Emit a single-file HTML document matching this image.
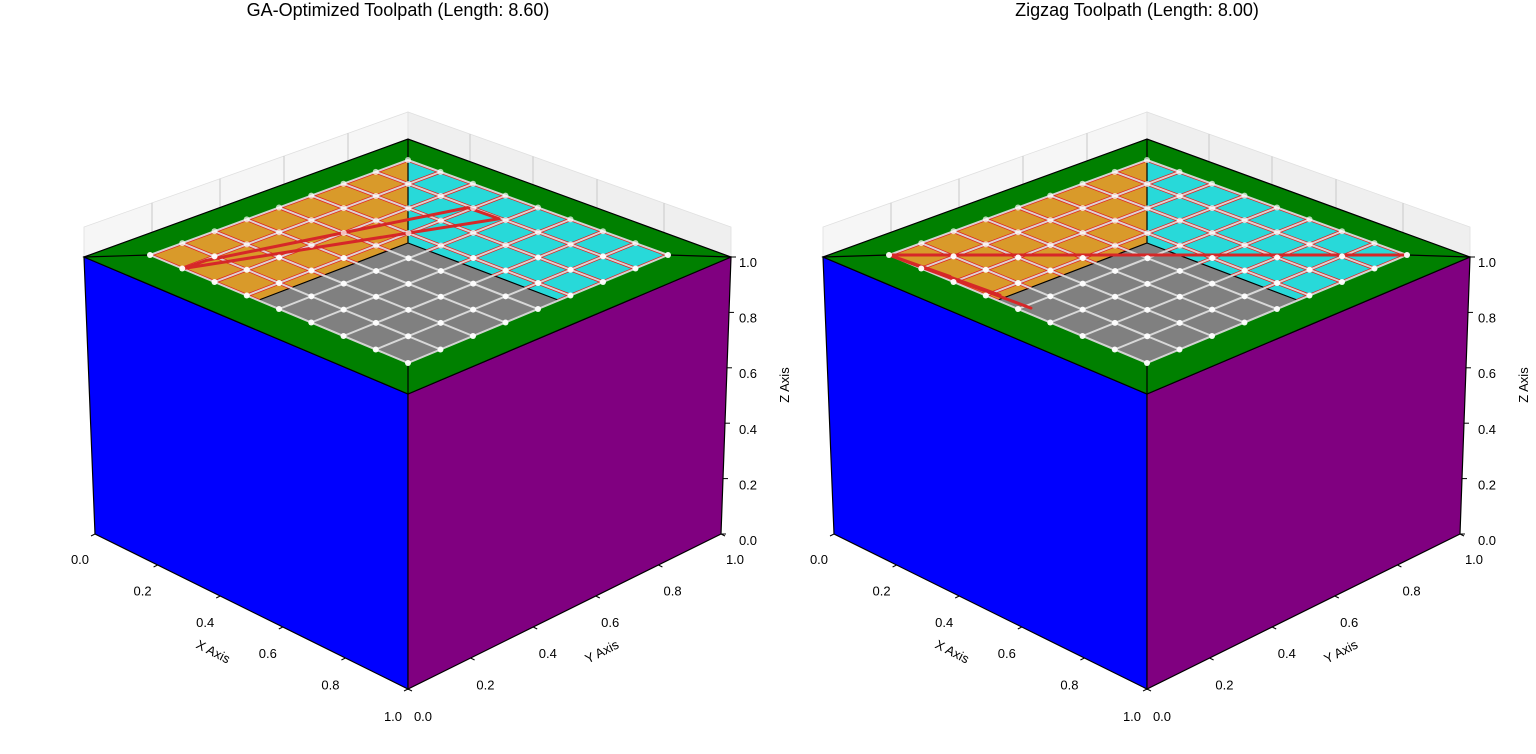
<!DOCTYPE html>
<html><head><meta charset="utf-8">
<style>
body{margin:0;background:#fff;width:1536px;height:754px;overflow:hidden}
svg{display:block;font-family:"Liberation Sans","DejaVu Sans",sans-serif}
</style></head>
<body>
<svg id="chart" width="1536" height="754" viewBox="0 0 1536 754" xmlns="http://www.w3.org/2000/svg"></svg>
<script>
// ---- data ----
const panelTitles = ["GA-Optimized Toolpath (Length: 8.60)", "Zigzag Toolpath (Length: 8.00)"];
const gaPathU = [1.0, 0.13, 0.133, 0.913, 1.0];
const gaPathV = [0.126, 0.48, 0.362, 0.129, 0.126];
const zigPathU = [0.0, 1.0, 0.97, 1.0, 0.97, 1.0, 0.98];
const zigPathV = [1.0, 0.0, 0.40, 0.0, 0.52, 0.0, 0.22];
const xTicks = ["0.0","0.2","0.4","0.6","0.8","1.0"];
const yTicks = ["0.0","0.2","0.4","0.6","0.8","1.0"];
const zTicks = ["0.0","0.2","0.4","0.6","0.8","1.0"];
const gridN = 8;

const NS = "http://www.w3.org/2000/svg";
const svg = document.getElementById("chart");
function mk(tag, attrs, parent){
  const e = document.createElementNS(NS, tag);
  for (const k in attrs) e.setAttribute(k, attrs[k]);
  (parent||svg).appendChild(e);
  return e;
}
function pts(a){return a.map(p=>p[0]+","+p[1]).join(" ");}

function drawPanel(idx, ox, pathU, pathV){
  const g = mk("g", {transform:"translate("+ox+",0)"});
  
  
  // back panes
  const paneL = mk("polygon",{points:pts([[84,257],[84,227],[408,112],[408,139]]),fill:"#f6f6f6",stroke:"#e0e0e0","stroke-width":0.8},g);
  
  
  const paneR = mk("polygon",{points:pts([[408,112],[731,227],[731,257],[408,139]]),fill:"#efefef",stroke:"#e0e0e0","stroke-width":0.8},g);
  
  
  [152,220,284,348].forEach(x=>{
    const t=(x-84)/(408-84);
    const l=mk("line",{x1:x,y1:227-t*115,x2:x,y2:257-t*118,stroke:"#c8c8c8","stroke-width":1},g);
    
    
  });
  [470,533,597,664].forEach(x=>{
    const t=(x-408)/(731-408);
    const l=mk("line",{x1:x,y1:112+t*115,x2:x,y2:139+t*118,stroke:"#c8c8c8","stroke-width":1},g);
    
    
  });
  // cube faces
  const blue = mk("polygon",{points:pts([[84,257],[408,394],[408,689],[95,534]]),fill:"#0000ff",stroke:"#000","stroke-width":1.2},g);
  
  
  const purple = mk("polygon",{points:pts([[408,394],[731,257],[721,534],[408,689]]),fill:"#800080",stroke:"#000","stroke-width":1.2},g);
  
  
  // rim
  const B=[408,160],L=[150,255],R=[668,255],F=[408,363];
  const rim = mk("path",{d:"M84,257 L408,139 L731,257 L408,394 Z M150,255 L408,363 L668,255 L408,160 Z",fill:"#008000","fill-rule":"evenodd",stroke:"#000","stroke-width":1.2},g);
  
  
  [[[84,257],L],[[408,139],B],[[731,257],R],[[408,394],F]].forEach(s=>{
    const l=mk("line",{x1:s[0][0],y1:s[0][1],x2:s[1][0],y2:s[1][1],stroke:"#000","stroke-width":1.2},g);
    
    
  });
  // pocket walls & floor
  const FB=[408,243],FL=[259,300],FR=[558,300];
  const orange = mk("polygon",{points:pts([L,B,FB,FL]),fill:"#d99a2a"},g);
  
  
  const cyan = mk("polygon",{points:pts([B,R,FR,FB]),fill:"#28d9d9"},g);
  
  
  const floor = mk("polygon",{points:pts([FB,FR,F,FL]),fill:"#808080"},g);
  
  
  [[B,FB],[FB,FL],[FB,FR]].forEach(s=>{
    const l=mk("line",{x1:s[0][0],y1:s[0][1],x2:s[1][0],y2:s[1][1],stroke:"#000","stroke-width":1.2},g);
    
    
  });
  const lat=(u,v)=>[B[0]*(1-u)*(1-v)+L[0]*u*(1-v)+R[0]*(1-u)*v+F[0]*u*v,
                    B[1]*(1-u)*(1-v)+L[1]*u*(1-v)+R[1]*(1-u)*v+F[1]*u*v];
  // red guide lines on walls (clipped)
  const cid="wallclip"+idx;
  const cp=mk("clipPath",{id:cid},g);
  mk("polygon",{points:pts([L,B,FB,FL])},cp);
  mk("polygon",{points:pts([B,R,FR,FB])},cp);
  const rg=mk("g",{"clip-path":"url(#"+cid+")"},g);
  for(let i=0;i<=gridN;i++){
    const t=i/gridN;
    const a=lat(t,0),b=lat(t,1),c=lat(0,t),d=lat(1,t);
    const l1=mk("line",{x1:a[0],y1:a[1],x2:b[0],y2:b[1],stroke:"#e02020","stroke-width":3.4},rg);
    
    
    const l2=mk("line",{x1:c[0],y1:c[1],x2:d[0],y2:d[1],stroke:"#e02020","stroke-width":3.4},rg);
    
    
  }
  // white grid
  for(let i=0;i<=gridN;i++){
    const t=i/gridN;
    const a=lat(t,0),b=lat(t,1),c=lat(0,t),d=lat(1,t);
    const l1=mk("line",{x1:a[0],y1:a[1],x2:b[0],y2:b[1],stroke:"#dcdcdc","stroke-width":2,"stroke-opacity":0.95},g);
    
    
    const l2=mk("line",{x1:c[0],y1:c[1],x2:d[0],y2:d[1],stroke:"#dcdcdc","stroke-width":2,"stroke-opacity":0.95},g);
    
    
  }
  // toolpath
  const tp = pathU.map((u,k)=>lat(u,pathV[k]));
  const path = mk("polyline",{points:pts(tp),fill:"none",stroke:"#d62728","stroke-width":3,"stroke-linejoin":"round"},g);
  
  
  // nodes
  for(let i=0;i<=gridN;i++)for(let j=0;j<=gridN;j++){
    const p=lat(i/gridN,j/gridN);
    const c=mk("circle",{cx:p[0],cy:p[1],r:3,fill:"#fff","fill-opacity":(i+j<8?0.7:0.95)},g);
    
    
  }
  // axes ticks & labels
  xTicks.forEach((t,k)=>{
    const f=k/(xTicks.length-1);
    const x=95+f*313, y=534+f*155;
    const tk=mk("line",{x1:x,y1:y,x2:x-4,y2:y+2,stroke:"#000","stroke-width":1},g);
    
    
    const tx=mk("text",{x:80+f*313,y:564+f*157,"font-size":13,"text-anchor":"middle",fill:"#000"},g);
    tx.textContent=t;
    
    
  });
  yTicks.forEach((t,k)=>{
    const f=k/(yTicks.length-1);
    const x=408+f*313, y=689-f*155;
    const tk=mk("line",{x1:x,y1:y,x2:x+4,y2:y+2,stroke:"#000","stroke-width":1},g);
    
    
    const tx=mk("text",{x:423+f*312,y:721-f*157,"font-size":13,"text-anchor":"middle",fill:"#000"},g);
    tx.textContent=t;
    
    
  });
  zTicks.forEach((t,k)=>{
    const f=k/(zTicks.length-1);
    const x=721+f*10, y=534-f*277;
    const tk=mk("line",{x1:x,y1:y,x2:x+5,y2:y,stroke:"#000","stroke-width":1},g);
    
    
    const tx=mk("text",{x:748,y:545-f*278,"font-size":13,"text-anchor":"middle",fill:"#000"},g);
    tx.textContent=t;
    
    
  });
  const xl=mk("text",{x:213,y:656,"font-size":13,"text-anchor":"middle",transform:"rotate(27 213 652)"},g);
  xl.textContent="X Axis";
  
  
  const yl=mk("text",{x:602,y:656,"font-size":13,"text-anchor":"middle",transform:"rotate(-27 602 652)"},g);
  yl.textContent="Y Axis";
  
  
  const zl=mk("text",{x:789,y:385,"font-size":13,"text-anchor":"middle",transform:"rotate(-90 789 385)"},g);
  zl.textContent="Z Axis";
  
  
  const ti=mk("text",{x:398,y:16,"font-size":18,"text-anchor":"middle",fill:"#000"},g);
  ti.textContent=panelTitles[idx];
  
  
}
drawPanel(0,0,gaPathU,gaPathV);
drawPanel(1,739,zigPathU,zigPathV);
</script>
</body></html>
